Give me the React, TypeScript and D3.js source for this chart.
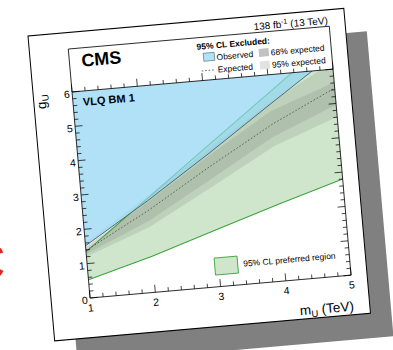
import React from "react";
import * as d3 from "d3";

// mass points (TeV) and limits on g_U
const massTeV = [1, 2, 3, 4, 5];
const observedLimit = [1.52, 2.66, 3.88, 5.15, 6.4];
const expectedLimit = [1.38, 2.38, 3.5, 4.56, 5.45];
const band68Low = [1.28, 2.08, 3.13, 4.2, 4.96];
const band68High = [1.48, 2.62, 3.82, 4.95, 5.62];
const band95Low = [1.2, 1.9, 2.9, 3.92, 4.61];
const band95High = [1.6, 2.8, 4.0, 5.2, 6.2];
const preferredLow = [0.53, 1.05, 1.65, 2.24, 2.8];
const preferredHigh = [1.35, 2.73, 4.11, 5.49, 6.87];

const xTicks = [1, 2, 3, 4, 5];
const yTicks = [0, 1, 2, 3, 4, 5, 6];

const FONT = "Liberation Sans, Arial, Helvetica, sans-serif";

export default function App() {
  const cardW = 317;
  const cardH = 306;
  const frame = { left: 39, right: 301, top: 16.5, bottom: 266.4 };

  const x = d3.scaleLinear().domain([1, 5]).range([frame.left, frame.right]);
  const y = d3.scaleLinear().domain([0, 6]).range([frame.bottom, 59.6]);

  const area = (lo: number[], hi: number[]) =>
    d3
      .area<number>()
      .x((m) => x(m))
      .y0((_, i) => y(lo[i]))
      .y1((_, i) => y(hi[i]))(massTeV) || "";

  const line = (vals: number[]) =>
    d3
      .line<number>()
      .x((m) => x(m))
      .y((_, i) => y(vals[i]))(massTeV) || "";

  const topFill = massTeV.map(() => 8);

  const xMinor = d3.range(0, 21).map((i) => 1 + i * 0.2);
  const yMinor = d3.range(0, 31).map((i) => i * 0.2);
  const y6 = y(6);

  return (
    <svg
      width={393}
      height={350}
      style={{ position: "absolute", left: 0, top: 0, background: "#fff" }}
      fontFamily={FONT}
    >
      <defs>
        <clipPath id="plot-clip">
          <rect x={frame.left} y={y6} width={frame.right - frame.left} height={frame.bottom - y6} />
        </clipPath>
      </defs>

      {/* red letter peeking in from the left */}
      <text x={-32} y={280} fontSize={52} fill="#e3261c">
        C
      </text>

      {/* drop shadow */}
      <g transform="translate(51,59) rotate(-5)">
        <rect width={cardW} height={cardH} fill="#808080" />
      </g>

      <g transform="translate(28,36) rotate(-5)">
        <rect width={cardW} height={cardH} fill="#fff" stroke="#000" strokeWidth={1} />

        <g clipPath="url(#plot-clip)">
          <path d={area(preferredLow, preferredHigh)} fill="#cfe6cc" />
          <path d={area(band95Low, band95High)} fill="#333" fillOpacity={0.11} />
          <path d={area(band68Low, band68High)} fill="#333" fillOpacity={0.11} />
          <path d={line(preferredLow)} fill="none" stroke="#3aa63a" strokeWidth={1.1} />
          <path d={line(preferredHigh)} fill="none" stroke="#3aa63a" strokeWidth={1.1} />
          <path d={area(observedLimit, topFill)} fill="#8fd4f3" fillOpacity={0.7} />
          <path d={line(observedLimit)} fill="none" stroke="#4b6170" strokeWidth={0.9} />
          <path
            d={line(expectedLimit)}
            fill="none"
            stroke="#555"
            strokeWidth={0.9}
            strokeDasharray="1.5,2"
          />
        </g>

        {/* frame */}
        <rect
          x={frame.left}
          y={frame.top}
          width={frame.right - frame.left}
          height={frame.bottom - frame.top}
          fill="none"
          stroke="#000"
          strokeWidth={0.8}
        />
        <line x1={frame.left} x2={frame.right} y1={y6} y2={y6} stroke="#000" strokeWidth={0.8} />

        {/* x ticks: bottom (inward) and along the g=6 line (upward) */}
        {xMinor.map((m, i) => {
          const len = i % 5 === 0 ? 7.5 : 4;
          return (
            <g key={"xt" + i} stroke="#000" strokeWidth={0.7}>
              <line x1={x(m)} x2={x(m)} y1={frame.bottom} y2={frame.bottom - len} />
              <line x1={x(m)} x2={x(m)} y1={y6} y2={y6 - len} />
            </g>
          );
        })}
        {/* y ticks: left and right, inward */}
        {yMinor.map((v, i) => {
          const len = i % 5 === 0 ? 7.5 : 4;
          return (
            <g key={"yt" + i} stroke="#000" strokeWidth={0.7}>
              <line x1={frame.left} x2={frame.left + len} y1={y(v)} y2={y(v)} />
              <line x1={frame.right} x2={frame.right - len} y1={y(v)} y2={y(v)} />
            </g>
          );
        })}

        {xTicks.map((t) => (
          <text key={"xl" + t} x={x(t)} y={frame.bottom + 13.5} fontSize={10.5} textAnchor="middle">
            {t}
          </text>
        ))}
        {yTicks.map((t) => (
          <text key={"yl" + t} x={frame.left - 2.5} y={y(t) + 5.5} fontSize={10.5} textAnchor="end">
            {t}
          </text>
        ))}

        {/* axis titles */}
        <text x={frame.right} y={302} fontSize={13.5} textAnchor="end">
          m
          <tspan fontSize={9.5} dy={3}>
            U
          </tspan>
          <tspan dy={-3}> (TeV)</tspan>
        </text>
        <g transform={`translate(12,${y6}) rotate(-90)`}>
          <text fontSize={13.5} textAnchor="end">
            g
            <tspan fontSize={9.5} dy={3}>
              U
            </tspan>
          </text>
        </g>

        {/* header texts */}
        <text x={51} y={35.3} fontSize={18} fontWeight="bold">
          CMS
        </text>
        <text x={frame.right - 1} y={14} fontSize={10} textAnchor="end">
          138 fb
          <tspan fontSize={7} dy={-4}>
            -1
          </tspan>
          <tspan dy={4}> (13 TeV)</tspan>
        </text>
        <text x={49} y={74.4} fontSize={11} fontWeight="bold">
          VLQ BM 1
        </text>

        {/* exclusion legend */}
        <g fontSize={8.5}>
          <text x={167} y={28.5} fontWeight="bold">
            95% CL Excluded:
          </text>
          <rect x={173} y={32.5} width={11} height={8} fill="#b2e2f7" stroke="#4b6170" strokeWidth={0.6} />
          <text x={186} y={40.5}>
            Observed
          </text>
          <line x1={170} x2={184} y1={50} y2={50} stroke="#555" strokeWidth={0.9} strokeDasharray="1.5,2" />
          <text x={186} y={53}>
            Expected
          </text>
          <rect x={228.5} y={33} width={10} height={8} fill="#c2c2c2" />
          <text x={240.5} y={40.5}>
            68% expected
          </text>
          <rect x={228.5} y={45.5} width={10} height={8} fill="#e2e2e2" />
          <text x={240.5} y={53}>
            95% expected
          </text>
        </g>

        {/* preferred region legend */}
        <rect x={166} y={237.5} width={23} height={17} fill="#cfe6cc" stroke="#3aa63a" strokeWidth={0.9} />
        <text x={194.5} y={248.5} fontSize={8.5}>
          95% CL preferred region
        </text>
      </g>
    </svg>
  );
}
